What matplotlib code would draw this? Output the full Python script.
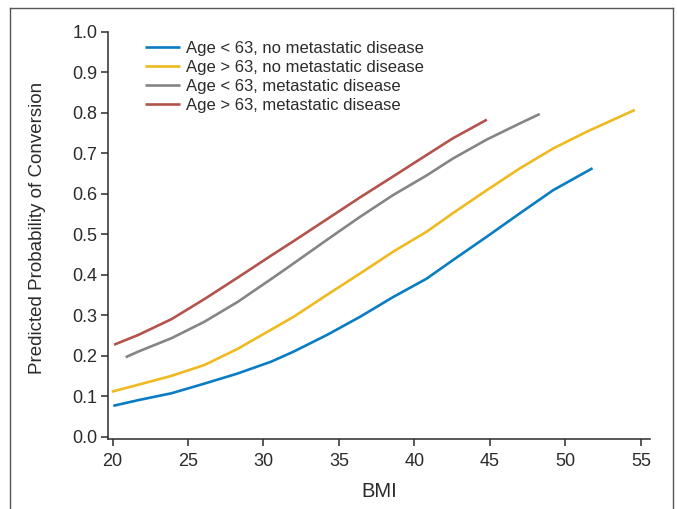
import matplotlib
matplotlib.use('Agg')
import matplotlib.pyplot as plt
from matplotlib.lines import Line2D

plt.rcParams['font.family'] = ['Liberation Sans', 'DejaVu Sans']

# 读图得到的数据
bmi_young_nomet = [20.05, 21.7, 23.9, 26.1, 28.3, 30.5, 32.0, 34.2, 36.4, 38.6, 40.8, 42.55, 44.8, 47.0, 49.2, 51.8]
p_young_nomet = [0.076, 0.090, 0.107, 0.131, 0.156, 0.185, 0.210, 0.251, 0.296, 0.345, 0.390, 0.436, 0.494, 0.552, 0.609, 0.663]

bmi_old_nomet = [19.95, 21.7, 23.9, 26.1, 28.3, 30.5, 32.0, 34.2, 36.4, 38.6, 40.8, 42.55, 44.8, 47.0, 49.2, 51.4, 54.6]
p_old_nomet = [0.111, 0.128, 0.150, 0.177, 0.217, 0.264, 0.296, 0.350, 0.403, 0.457, 0.506, 0.552, 0.609, 0.663, 0.712, 0.753, 0.807]

bmi_young_met = [20.87, 21.7, 23.9, 26.1, 28.3, 30.5, 32.0, 34.2, 36.4, 38.6, 40.8, 42.55, 44.8, 47.0, 48.3]
p_young_met = [0.196, 0.210, 0.243, 0.284, 0.333, 0.389, 0.428, 0.486, 0.543, 0.597, 0.645, 0.687, 0.734, 0.774, 0.797]

bmi_old_met = [20.1, 21.7, 23.9, 26.1, 28.3, 30.5, 32.0, 34.2, 36.4, 38.6, 40.4, 42.55, 44.8]
p_old_met = [0.227, 0.251, 0.290, 0.340, 0.393, 0.447, 0.483, 0.537, 0.591, 0.643, 0.686, 0.737, 0.783]

labels = ['Age < 63, no metastatic disease',
          'Age > 63, no metastatic disease',
          'Age < 63, metastatic disease',
          'Age > 63, metastatic disease']
colors = ['#0a7cc4', '#efb920', '#858585', '#b3534d']

x_ticks = [20, 25, 30, 35, 40, 45, 50, 55]
y_ticks = [0.0, 0.1, 0.2, 0.3, 0.4, 0.5, 0.6, 0.7, 0.8, 0.9, 1.0]

fig = plt.figure(figsize=(6.77, 5.09), dpi=100)
ax = fig.add_axes([0.160, 0.1375, 0.800, 0.800])

series = [(bmi_young_nomet, p_young_nomet), (bmi_old_nomet, p_old_nomet),
          (bmi_young_met, p_young_met), (bmi_old_met, p_old_met)]
for (xs, ys), lab, c in zip(series, labels, colors):
    ax.plot(xs, ys, color=c, lw=1.9, label=lab, solid_capstyle='butt',
            solid_joinstyle='round')

ax.set_xlim(19.72, 55.6)
ax.set_ylim(-0.006, 1.0)
ax.set_xticks(x_ticks)
ax.set_yticks(y_ticks)
ax.set_yticklabels([f'{v:.1f}' for v in y_ticks])

txt = '#2b2b2b'
for s in ['top', 'right']:
    ax.spines[s].set_visible(False)
for s in ['left', 'bottom']:
    ax.spines[s].set_color(txt)
    ax.spines[s].set_linewidth(1.1)
ax.tick_params(colors=txt, labelsize=13, length=5, width=1.1)
ax.tick_params(axis='x', pad=5)
ax.tick_params(axis='y', pad=3)

ax.set_xlabel('BMI', fontsize=14.5, color=txt, labelpad=9)
ax.set_ylabel('Predicted Probability of Conversion', fontsize=13.5, color=txt)
ax.yaxis.set_label_coords(-0.115, 0.518)

ax.legend(loc='upper left', bbox_to_anchor=(0.068, 0.978), frameon=False,
          fontsize=12, handlelength=2.1, handletextpad=0.36, borderpad=0,
          borderaxespad=0, labelspacing=0.25, labelcolor=txt)

# 外框
bc = '#555555'
x0, x1 = 10 / 677, 673 / 677
y_top = 1 - 8 / 509
fig.add_artist(Line2D([x0, x0], [0, y_top], color=bc, lw=1.0, transform=fig.transFigure))
fig.add_artist(Line2D([x0, x1], [y_top, y_top], color=bc, lw=1.0, transform=fig.transFigure))
fig.add_artist(Line2D([x1, x1], [0, y_top], color=bc, lw=1.0, transform=fig.transFigure))

fig.savefig('out.png', dpi=100)
